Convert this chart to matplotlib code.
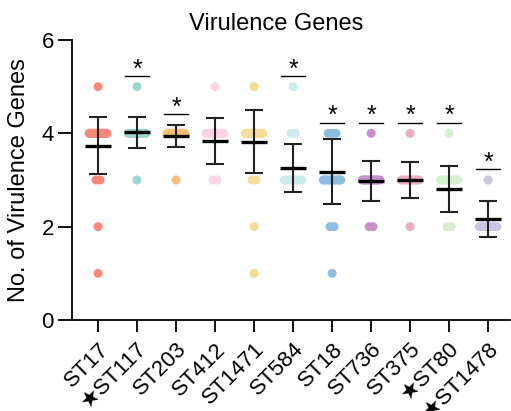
import matplotlib
matplotlib.use("Agg")
import matplotlib.pyplot as plt
import numpy as np

plt.rcParams['font.family'] = ['Liberation Sans', 'DejaVu Sans']

# data
strains = ['ST17', 'ST117', 'ST203', 'ST412', 'ST1471', 'ST584',
           'ST18', 'ST736', 'ST375', 'ST80', 'ST1478']
tick_labels = ['ST17', '★ST117', 'ST203', 'ST412', 'ST1471', 'ST584',
               'ST18', 'ST736', 'ST375', '★ST80', '★ST1478']
colors = ['#F8877A', '#9AD8CF', '#F9BE7A', '#FDD3E6', '#F5DC9A', '#CDEBEF',
          '#8DBDE0', '#C891C9', '#E8AFC5', '#D5EFCF', '#C9C6E3']
means = [3.73, 4.02, 3.94, 3.83, 3.82, 3.26, 3.18, 2.97, 3.00, 2.81, 2.16]
sds = [0.61, 0.33, 0.24, 0.49, 0.68, 0.51, 0.69, 0.43, 0.39, 0.49, 0.38]
significant = [False, True, True, False, False, True, True, True, True, True, True]

# number of virulence genes per isolate, as value -> how many isolates
point_values = [[5, 4, 3, 2, 1], [5, 4, 3], [4, 3], [5, 4, 3], [5, 4, 3, 2, 1],
                [5, 4, 3], [4, 3, 2, 1], [4, 3, 2], [4, 3, 2], [4, 3, 2], [3, 2]]
point_counts = [[1, 20, 2, 1, 1], [1, 20, 1], [15, 1], [1, 10, 2], [1, 12, 2, 1, 1],
                [1, 2, 8], [3, 10, 2, 1], [1, 12, 2], [1, 10, 1], [1, 8, 2], [1, 8]]

fig = plt.figure(figsize=(5.11, 4.11), dpi=100)
ax = fig.add_axes([72 / 511, 91 / 411, 438 / 511, 280 / 411])

for i, s in enumerate(strains):
    xs, ys = [], []
    for v, n in zip(point_values[i], point_counts[i]):
        w = min(0.45, 0.1 * (n - 1))
        xs.extend(i + np.linspace(-w / 2, w / 2, n))
        ys.extend([v] * n)
    ax.scatter(xs, ys, s=42, color=colors[i], edgecolors='none', zorder=2)

    # mean +/- SD
    ax.errorbar(i, means[i], yerr=sds[i], fmt='none', ecolor='#222222',
                elinewidth=1.5, capsize=6.5, capthick=1.5, zorder=3)
    ax.plot([i - 0.33, i + 0.33], [means[i], means[i]], color='black', lw=2.4,
            solid_capstyle='butt', zorder=4)

    if significant[i]:
        top = max(max(point_values[i]), means[i] + sds[i]) + 0.23
        ax.plot([i - 0.31, i + 0.31], [top, top], color='black', lw=1.0, zorder=4)
        ax.text(i, top - 0.12, '*', ha='center', va='bottom', fontsize=18)

ax.set_xlim(-0.667, 10.56)
ax.set_ylim(0, 6)
ax.set_yticks([0, 2, 4, 6])
ax.set_xticks(range(len(strains)))
ax.set_xticklabels(tick_labels, rotation=45, ha='right', rotation_mode='anchor',
                   fontsize=16)
ax.tick_params(axis='y', labelsize=16, length=10, width=1.3, pad=3)
ax.tick_params(axis='x', length=8.5, width=1.3, pad=5)
for side in ['top', 'right']:
    ax.spines[side].set_visible(False)
for side in ['left', 'bottom']:
    ax.spines[side].set_linewidth(1.3)

ax.set_ylabel('No. of Virulence Genes', fontsize=17, labelpad=8)
fig.text(276 / 511, 1 - 24 / 411, 'Virulence Genes', ha='center', va='center', fontsize=17)

plt.savefig('out.png', dpi=100)
plt.close()
